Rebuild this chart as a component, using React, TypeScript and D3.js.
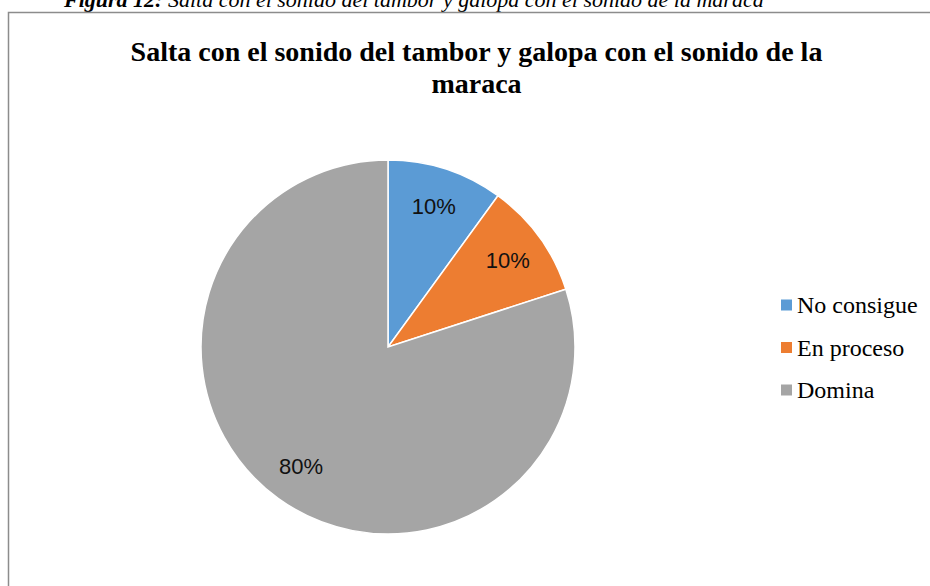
import React from "react";
import * as d3 from "d3";

const categories = ["No consigue", "En proceso", "Domina"];
const values = [10, 10, 80];
const labels = ["10%", "10%", "80%"];
const colors = ["#5B9BD5", "#ED7D31", "#A5A5A5"];

export default function App() {
  const cx = 388, cy = 347, r = 187;
  const pie = d3.pie<number>().sort(null).startAngle(0).endAngle(2 * Math.PI);
  const arcs = pie(values);
  const arc = d3.arc<d3.PieArcDatum<number>>().innerRadius(0).outerRadius(r);
  const labelArc = d3.arc<d3.PieArcDatum<number>>().innerRadius(148).outerRadius(148);
  return (
    <svg width={930} height={586} style={{ position: "absolute", left: 0, top: 0, background: "#fff" }}>
      <text x={64} y={7} fontFamily="Liberation Serif" fontSize={22} fontStyle="italic" fill="#000">
        <tspan fontWeight="bold">Figura 12:</tspan>
        <tspan> Salta con el sonido del tambor y galopa con el sonido de la maraca</tspan>
      </text>
      <rect x={8.5} y={12.5} width={940} height={600} fill="#fff" stroke="#8c8c8c" strokeWidth={1.5} />
      <text x={476.5} y={61} textAnchor="middle" fontFamily="Liberation Serif" fontWeight="bold" fontSize={28} fill="#000">
        Salta con el sonido del tambor y galopa con el sonido de la
      </text>
      <text x={476.5} y={93} textAnchor="middle" fontFamily="Liberation Serif" fontWeight="bold" fontSize={28} fill="#000">
        maraca
      </text>
      <g transform={`translate(${cx},${cy})`}>
        {arcs.map((a, i) => (
          <path key={categories[i]} d={arc(a) || ""} fill={colors[i]} stroke="#fff" strokeWidth={1.5} />
        ))}
        {arcs.map((a, i) => {
          const [x, y] = labelArc.centroid(a);
          return (
            <text key={"l" + i} x={x} y={y} textAnchor="middle" dominantBaseline="central" fontFamily="Liberation Sans" fontSize={22} fill="#111">
              {labels[i]}
            </text>
          );
        })}
      </g>
      {categories.map((c, i) => (
        <g key={"lg" + i} transform={`translate(781,${305 + i * 42.5})`}>
          <rect x={0} y={-5.5} width={11} height={11} fill={colors[i]} />
          <text x={16} y={0} dominantBaseline="central" fontFamily="Liberation Serif" fontSize={24} fill="#000">
            {c}
          </text>
        </g>
      ))}
    </svg>
  );
}
